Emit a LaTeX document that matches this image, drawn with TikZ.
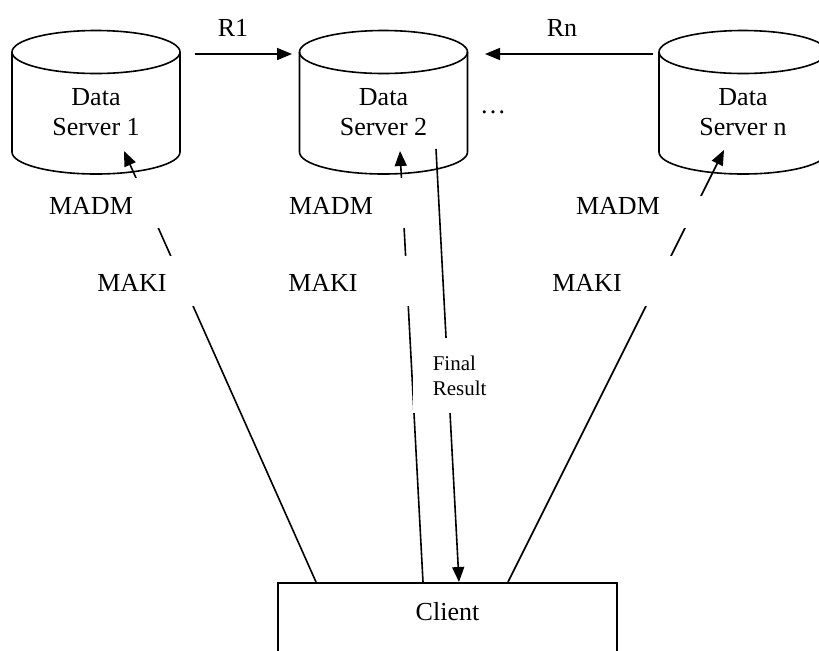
\documentclass[tikz,border=0pt]{standalone}
\usepackage{fontspec}
\setmainfont{Liberation Serif}
\usetikzlibrary{arrows.meta}

\begin{document}
\begin{tikzpicture}[x=0.5pt, y=0.5pt, line width=0.8pt,
        arrow/.style     = {-{Triangle[length=7.5pt,width=6pt]}},
        txt/.style       = {font=\fontsize{13}{15}\selectfont, align=center, inner sep=0pt},
        small/.style     = {font=\fontsize{10.5}{12.5}\selectfont, align=left, inner ysep=0pt},
        gapbox/.style    = {txt, fill=white},
        clientbox/.style = {draw, txt, anchor=north, minimum width=169.5pt, text height=10pt, text depth=50pt, inner ysep=9pt}]
            \useasboundingbox (0,0) rectangle (819,-650);
            \clip (0,0) rectangle (819,-650);

            \foreach \name/\cx/\num in {s1/96/1, s2/383.5/2, sn/743/n} {
                \draw (\cx,-52) ellipse [x radius=84, y radius=21.5];
                \draw (\cx-84,-52) -- (\cx-84,-152) arc [start angle=180, end angle=360, x radius=84, y radius=22] -- (\cx+84,-52);
                \node[txt] (\name) at (\cx,-112) {Data\\Server \num};
            }

            \node[txt] (r1) at (233,-28) {R1};
            \node[txt] (rn) at (562,-28) {Rn};
            \node[txt, anchor=base] (dots) at (493,-113) {\dots};
            \node[clientbox] (client) at (447.5,-582) {Client};

            \coordinate (r1a) at (195,-54);
            \coordinate (r1b) at (292,-54);
            \coordinate (rna) at (653,-54);
            \coordinate (rnb) at (485,-54);
            \coordinate (t1)  at (124,-151);
            \coordinate (t2)  at (400,-151);
            \coordinate (tn)  at (724,-150);
            \coordinate (fr)  at (436,-149);
            \coordinate (c1)  at (316,-582);
            \coordinate (c2)  at (423,-582);
            \coordinate (c3)  at (459,-582);
            \coordinate (cn)  at (508,-582);

            \draw[arrow] (r1a) -- (r1b);
            \draw[arrow] (rna) -- (rnb);
            \draw[arrow] (c1) -- (t1);
            \draw[arrow] (c2) -- (t2);
            \draw[arrow] (cn) -- (tn);
            \draw[arrow] (fr) -- (c3);

            \node[gapbox, minimum width=75pt,  minimum height=25pt, text height=11.5pt] (madm1) at (91,-203)  {MADM};
            \node[gapbox, minimum width=70pt,  minimum height=25pt, text height=10.5pt] (maki1) at (132,-281) {MAKI};
            \node[gapbox, minimum width=80pt,  minimum height=25pt, text height=11.5pt] (madm2) at (331,-203) {MADM};
            \node[gapbox, minimum width=95pt,  minimum height=25pt, text height=10.5pt] (maki2) at (323,-281) {MAKI};
            \node[gapbox, minimum width=100pt, minimum height=16pt, text height=8.5pt, text depth=6pt] (madmn) at (618,-212) {MADM};
            \node[gapbox, minimum width=95pt,  minimum height=25pt, text height=10.5pt] (makin) at (587,-281) {MAKI};
            \node[small, fill=white, anchor=west, inner xsep=9.75pt, minimum height=37.5pt] (final) at (412.5,-375.5) {Final\\Result};
        \end{tikzpicture}
\end{document}
